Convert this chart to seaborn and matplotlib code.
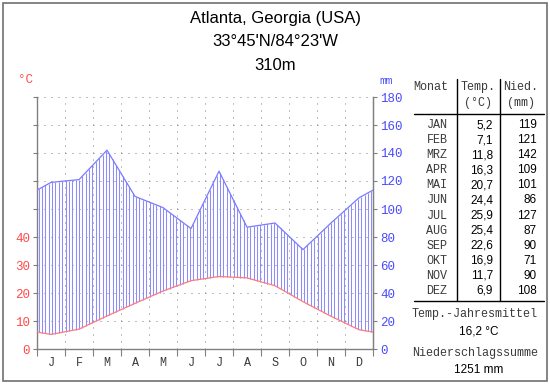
import matplotlib
matplotlib.use('Agg')
import matplotlib.pyplot as plt
import numpy as np
import pandas as pd
import seaborn as sns
from matplotlib.lines import Line2D
from matplotlib.patches import Rectangle

# climate data, Atlanta
months = ['JAN', 'FEB', 'MRZ', 'APR', 'MAI', 'JUN', 'JUL', 'AUG', 'SEP', 'OKT', 'NOV', 'DEZ']
month_letters = ['J', 'F', 'M', 'A', 'M', 'J', 'J', 'A', 'S', 'O', 'N', 'D']
temp = [5.2, 7.1, 11.8, 16.3, 20.7, 24.4, 25.9, 25.4, 22.6, 16.9, 11.7, 6.9]
precip = [119, 121, 142, 109, 101, 86, 127, 87, 90, 71, 90, 108]
temp_labels = ['5,2', '7,1', '11,8', '16,3', '20,7', '24,4', '25,9', '25,4', '22,6', '16,9', '11,7', '6,9']
title_lines = ['Atlanta, Georgia (USA)', "33°45'N/84°23'W", '310m']
temp_mean = '16,2 °C'
precip_sum = '1251 mm'

W, H = 550, 384
RED = '#ff4a4a'
BLUE = '#4a4aff'
GRAY = '#808080'
TXT = '#3a3a3a'
MONO = 'Liberation Mono'
SANS = 'Liberation Sans'

sns.set_style('white')
plt.rcParams['font.family'] = ['Liberation Sans', 'DejaVu Sans']

# curve: mid-month points, edges at mean of Dec/Jan
edge_t = (temp[0] + temp[-1]) / 2
edge_p = (precip[0] + precip[-1]) / 2
df = pd.DataFrame({
    'x': [0] + [i + 0.5 for i in range(12)] + [12],
    'temp_mm': [2 * edge_t] + [2 * t for t in temp] + [2 * edge_t],
    'precip': [edge_p] + precip + [edge_p],
})

fig = plt.figure(figsize=(W / 100, H / 100), dpi=100)
ax = fig.add_axes([37 / W, 35 / H, 336 / W, 252 / H])
ax.set_xlim(0, 12)
ax.set_ylim(0, 180)

# humid hatching between the two curves
xs = np.arange(0.06, 12, 0.12)
lo = np.interp(xs, df['x'], df['temp_mm'])
hi = np.interp(xs, df['x'], df['precip'])
ax.vlines(xs, lo, hi, color='#8c8cff', lw=0.75, zorder=2)

sns.lineplot(data=df, x='x', y='precip', ax=ax, color='#7a7aff', lw=0.9, zorder=3)
sns.lineplot(data=df, x='x', y='temp_mm', ax=ax, color='#ff7a7a', lw=0.9, zorder=3)
ax.set_xlabel('')
ax.set_ylabel('')

# grid
dots = (0, (1, 6))
for k in range(1, 12):
    ax.axvline(k, color=GRAY, lw=0.72, linestyle=dots, zorder=1)
for v in range(20, 181, 20):
    ax.axhline(v, color=GRAY, lw=0.72, linestyle=dots, zorder=1, clip_on=False)

for s in ['left', 'right', 'bottom']:
    ax.spines[s].set_color(GRAY)
    ax.spines[s].set_linewidth(1)
ax.spines['top'].set_visible(False)

ax.set_xticks(range(13))
ax.set_xticklabels([])
ax.set_xticks([i + 0.5 for i in range(12)], minor=True)
ax.set_xticklabels(month_letters, minor=True, fontfamily=MONO, fontsize=8.5, color=TXT)
ax.tick_params(axis='x', which='major', direction='out', length=5, color=GRAY, bottom=True)
ax.tick_params(axis='x', which='minor', length=0, pad=6)

ax.set_yticks(range(0, 181, 20))
ax.set_yticklabels(['0', '10', '20', '30', '40', '', '', '', '', ''],
                   fontfamily=MONO, fontsize=9, color=RED)
ax.tick_params(axis='y', direction='out', length=3, color=GRAY, left=True, pad=2)

sec = ax.secondary_yaxis('right')
sec.set_yticks(range(0, 181, 20))
sec.set_yticklabels([str(v) for v in range(0, 181, 20)], fontfamily=MONO, fontsize=9, color=BLUE)
sec.tick_params(direction='out', length=3, color=GRAY, pad=2)
sec.spines['right'].set_color(GRAY)


def put(x, y, s, **kw):
    fig.text(x / W, 1 - y / H, s, va='center', **kw)


for i, line in enumerate(title_lines):
    put(275, 18 + 23.5 * i, line, ha='center', fontsize=12, fontfamily=SANS, color='black')

put(25, 80, '°C', ha='center', fontsize=9, fontfamily=MONO, color=RED)
put(386, 81, 'mm', ha='center', fontsize=8, fontfamily=MONO, color=BLUE)

# table
put(431, 87, 'Monat', ha='center', fontsize=8.5, fontfamily=MONO, color=TXT)
put(478, 87, 'Temp.', ha='center', fontsize=8.5, fontfamily=MONO, color=TXT)
put(478, 103, '(°C)', ha='center', fontsize=8.5, fontfamily=MONO, color=TXT)
put(521, 87, 'Nied.', ha='center', fontsize=8.5, fontfamily=MONO, color=TXT)
put(521, 103, '(mm)', ha='center', fontsize=8.5, fontfamily=MONO, color=TXT)
for i, m in enumerate(months):
    y = 125 + 15.09 * i
    put(437, y, m, ha='center', fontsize=8.5, fontfamily=MONO, color=TXT)
    put(493, y, temp_labels[i], ha='right', fontsize=8.5, fontfamily=SANS, color='black')
    put(537, y, str(precip[i]), ha='right', fontsize=8.5, fontfamily=SANS, color='black')

put(475, 314, 'Temp.-Jahresmittel', ha='center', fontsize=8.5, fontfamily=MONO, color=TXT)
put(479, 331, temp_mean, ha='center', fontsize=8.5, fontfamily=SANS, color='black')
put(475, 353, 'Niederschlagssumme', ha='center', fontsize=8.5, fontfamily=MONO, color=TXT)
put(479, 370, precip_sum, ha='center', fontsize=8.5, fontfamily=SANS, color='black')


def fline(x0, y0, x1, y1, color='black', lw=1):
    fig.add_artist(Line2D([x0 / W, x1 / W], [1 - y0 / H, 1 - y1 / H], color=color, lw=lw))


fline(414, 114, 544, 114)
fline(414, 301, 544, 301)
fline(457, 79, 457, 301)
fline(500, 79, 500, 301)

fig.add_artist(Rectangle((3 / W, 3 / H), 544 / W, 378 / H, transform=fig.transFigure,
                         fill=False, edgecolor='#707070', lw=1.2))

fig.savefig('out.png', dpi=100)
